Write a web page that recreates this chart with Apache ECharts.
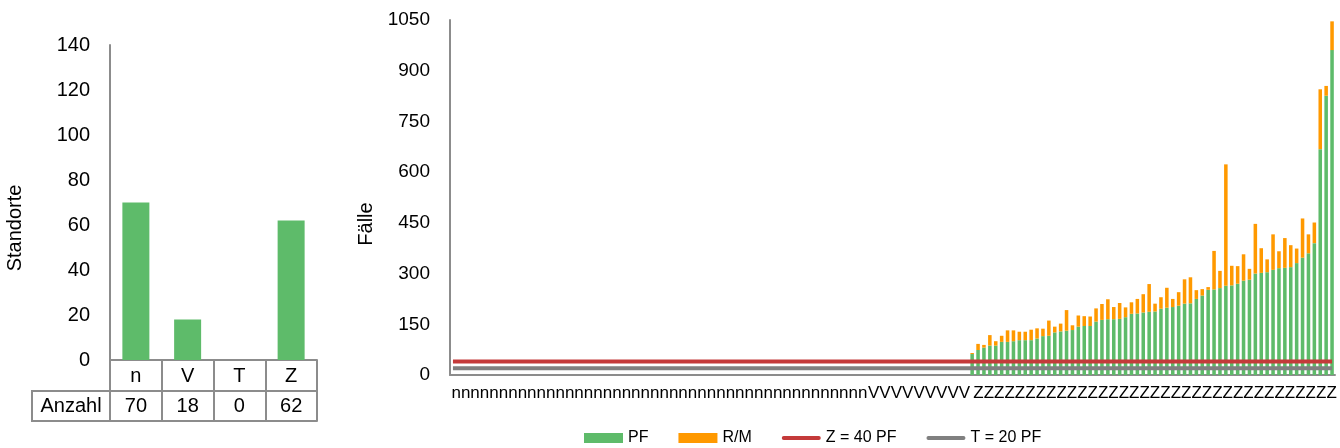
<!DOCTYPE html>
<html>
<head>
<meta charset="utf-8">
<title>Standorte und Fälle</title>
<script src="https://cdn.jsdelivr.net/npm/echarts@6/dist/echarts.min.js"></script>
<style>
  html, body { margin: 0; padding: 0; background: #fff; }
  #chart { width: 1340px; height: 448px; }
</style>
</head>
<body>
<div id="chart"></div>
<script>
// Standorte je Gruppe (links)
var groups = ['n', 'V', 'T', 'Z'];
var counts = [70, 18, 0, 62];
// wie oft der Buchstabe unter der rechten Achse steht
var labelRepeat = [44, 9, 0, 35];

// Fälle der Z-Standorte (rechts), n und V haben keine Balken
var pfZ = [62, 74, 81, 87, 87, 98, 98, 100, 103, 103, 103, 108, 115, 116, 126, 129, 131, 133, 143, 145,
  145, 158, 163, 165, 165, 166, 171, 181, 182, 185, 187, 188, 196, 199, 201, 205, 211, 212, 225, 235,
  252, 253, 257, 264, 265, 270, 279, 282, 300, 302, 304, 311, 316, 317, 319, 331, 347, 360, 390, 668,
  826, 961];
var rmZ = [3, 18, 8, 31, 13, 18, 34, 32, 25, 25, 31, 30, 22, 45, 17, 23, 61, 14, 33, 29,
  28, 39, 47, 59, 36, 47, 29, 34, 43, 54, 82, 23, 34, 59, 24, 40, 72, 77, 26, 19,
  8, 114, 51, 359, 58, 52, 78, 32, 147, 73, 38, 105, 50, 88, 65, 43, 116, 56, 61, 177,
  29, 85];
var limitZ = 40;
var limitT = 20;

var GREEN = '#5EBB6A', ORANGE = '#FF9900', RED = '#C43A3A', GREY = '#808080', LINE = '#8C8C8C';
var FONT = 'Liberation Sans, Arial, sans-serif';
var LINE_ICON = 'path://M2,0H38A2,2 0 0 1 38,4H2A2,2 0 0 1 2,0Z';

// Kategorien rechts: ein Eintrag je Standort
var cats = [], pf = [], rm = [], zLine = [], tLine = [], labelAt = {};
var k = 0;
for (var g = 0; g < groups.length; g++) {
  var start = cats.length;
  for (var i = 0; i < counts[g]; i++) {
    cats.push(groups[g] + (i + 1));
    if (groups[g] === 'Z') {
      pf.push(pfZ[k]);
      rm.push(rmZ[k]);
      k++;
    } else {
      pf.push(null);
      rm.push(null);
    }
    zLine.push(limitZ);
    tLine.push(limitT);
  }
  if (counts[g] > 0) {
    // Buchstabenreihe ungefähr unter die Mitte der Gruppe
    var mid = start + Math.round((counts[g] - 1) / 2);
    labelAt[mid] = new Array(labelRepeat[g] + 1).join(groups[g]);
  }
}

var chart = echarts.init(document.getElementById('chart'));

var option = {
  animation: false,
  textStyle: { fontFamily: FONT, color: '#000' },
  grid: [
    { left: 110, top: 45, width: 207, height: 315 },
    { left: 450, top: 20, right: 5, height: 355 }
  ],
  legend: {
    left: 584,
    bottom: 2,
    padding: 0,
    itemWidth: 39,
    itemHeight: 10,
    itemGap: 30,
    textStyle: { fontSize: 16, color: '#000', fontFamily: FONT },
    data: [
      { name: 'PF', icon: 'rect' },
      { name: 'R/M', icon: 'rect' },
      { name: 'Z = 40 PF', icon: LINE_ICON },
      { name: 'T = 20 PF', icon: LINE_ICON }
    ]
  },
  xAxis: [
    {
      gridIndex: 0,
      type: 'category',
      data: groups,
      axisLine: { lineStyle: { color: LINE, width: 2 } },
      axisTick: { show: true, length: 31, interval: 0, lineStyle: { color: LINE, width: 2 } },
      axisLabel: { fontSize: 20, color: '#000', margin: 6 }
    },
    {
      gridIndex: 0,
      type: 'category',
      position: 'bottom',
      offset: 31,
      data: counts.map(String),
      axisLine: { lineStyle: { color: LINE, width: 2 } },
      axisTick: { show: true, length: 30, interval: 0, lineStyle: { color: LINE, width: 2 } },
      axisLabel: { fontSize: 20, color: '#000', margin: 5 }
    },
    {
      gridIndex: 0,
      type: 'category',
      position: 'bottom',
      offset: 61,
      data: groups,
      axisLine: { lineStyle: { color: LINE, width: 2 } },
      axisTick: { show: false },
      axisLabel: { show: false }
    },
    {
      gridIndex: 1,
      type: 'category',
      data: cats,
      axisLine: { lineStyle: { color: LINE, width: 2 } },
      axisTick: { show: false },
      axisLabel: {
        fontSize: 17,
        color: '#000',
        margin: 10,
        interval: function (index) { return labelAt[index] !== undefined; },
        formatter: function (value, index) { return labelAt[index] || ''; }
      }
    }
  ],
  yAxis: [
    {
      gridIndex: 0,
      type: 'value',
      min: 0,
      max: 140,
      interval: 20,
      name: 'Standorte',
      nameLocation: 'middle',
      nameGap: 85,
      nameTextStyle: { fontSize: 20, color: '#000', padding: [0, 51, 0, 0] },
      axisLine: { show: true, lineStyle: { color: LINE, width: 2 } },
      axisTick: { show: false },
      splitLine: { show: false },
      axisLabel: { fontSize: 20, color: '#000', margin: 20 }
    },
    {
      gridIndex: 1,
      type: 'value',
      min: 0,
      max: 1050,
      interval: 150,
      name: 'Fälle',
      nameLocation: 'middle',
      nameGap: 66,
      nameTextStyle: { fontSize: 20, color: '#000', padding: [0, 53, 0, 0] },
      axisLine: { show: true, lineStyle: { color: LINE, width: 2 } },
      axisTick: { show: false },
      splitLine: { show: false },
      axisLabel: {
        fontSize: 19,
        color: '#000',
        margin: 20,
        formatter: function (v) { return String(v); }
      }
    }
  ],
  graphic: [
    {
      type: 'rect',
      shape: { x: 32, y: 391, width: 78, height: 30 },
      style: { fill: 'none', stroke: LINE, lineWidth: 2 }
    },
    {
      type: 'text',
      x: 71,
      y: 406,
      style: { text: 'Anzahl', fontSize: 20, fontFamily: FONT, fill: '#000', align: 'center', verticalAlign: 'middle' }
    }
  ],
  series: [
    {
      name: 'Standorte',
      type: 'bar',
      xAxisIndex: 0,
      yAxisIndex: 0,
      data: counts,
      barWidth: 27,
      itemStyle: { color: GREEN }
    },
    {
      name: 'PF',
      type: 'bar',
      stack: 'faelle',
      xAxisIndex: 3,
      yAxisIndex: 1,
      data: pf,
      barCategoryGap: '40%',
      itemStyle: { color: GREEN }
    },
    {
      name: 'R/M',
      type: 'bar',
      stack: 'faelle',
      xAxisIndex: 3,
      yAxisIndex: 1,
      data: rm,
      barCategoryGap: '40%',
      itemStyle: { color: ORANGE }
    },
    {
      name: 'Z = 40 PF',
      type: 'line',
      xAxisIndex: 3,
      yAxisIndex: 1,
      data: zLine,
      symbol: 'none',
      lineStyle: { color: RED, width: 4 },
      itemStyle: { color: RED }
    },
    {
      name: 'T = 20 PF',
      type: 'line',
      xAxisIndex: 3,
      yAxisIndex: 1,
      data: tLine,
      symbol: 'none',
      lineStyle: { color: GREY, width: 4 },
      itemStyle: { color: GREY }
    }
  ]
};

chart.setOption(option);
</script>
</body>
</html>
